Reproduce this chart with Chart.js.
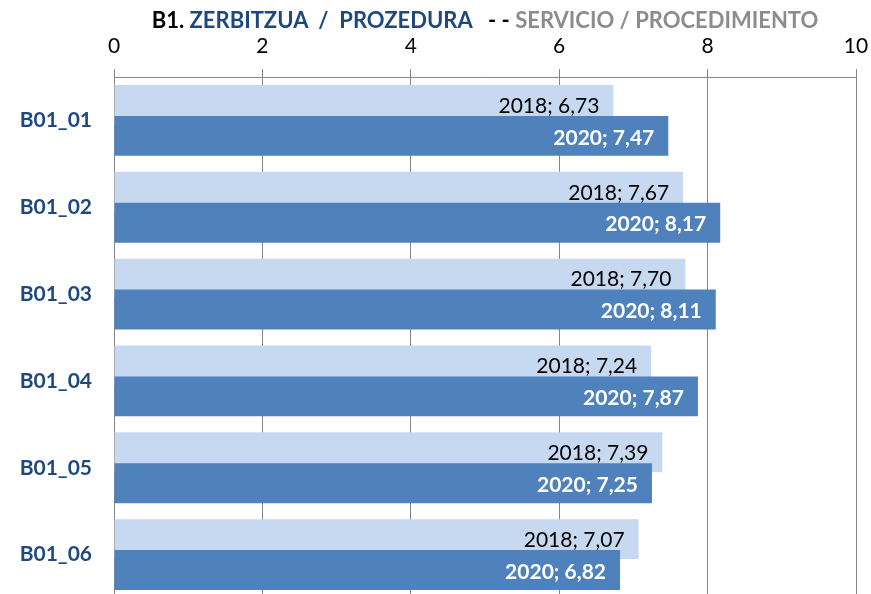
<!DOCTYPE html>
<html>
<head>
<meta charset="utf-8">
<script src="https://cdn.jsdelivr.net/npm/chart.js@4"></script>
<style>
    html, body { margin: 0; padding: 0; background: #fff; overflow: hidden; }
    #wrap { position: relative; width: 871px; height: 606px; }
    #title {
        position: absolute; left: 114px; width: 742px; top: 7px;
        text-align: center; white-space: pre;
        font: bold 22px Lato, sans-serif; line-height: 26px;
    }
    .t-dark  { color: #000; }
    .t-blue  { color: #1F497D; }
    .t-gray  { color: #8C8C8C; }
</style>
</head>
<body>
<div id="wrap">
    <canvas id="barChart" width="871" height="606"></canvas>
    <div id="title"><span class="t-dark">B1. </span><span class="t-blue">ZERBITZUA  /  PROZEDURA</span><span class="t-dark">   - - </span><span class="t-gray">SERVICIO / PROCEDIMIENTO</span></div>
</div>
<script>
// ─── Data ─────────────────────────────────────────────────────────────────
const categories  = ['B01_01', 'B01_02', 'B01_03', 'B01_04', 'B01_05', 'B01_06'];
const seriesNames = ['2018', '2020'];
const values2018  = [6.73, 7.67, 7.70, 7.24, 7.39, 7.07];
const values2020  = [7.47, 8.17, 8.11, 7.87, 7.25, 6.82];
const xTicks      = [0, 2, 4, 6, 8, 10];

const FONT      = 'Lato, sans-serif';
const GRID_GRAY = '#868686';

/** "7.47" → "7,47" */
function fmt(v) {
    return v.toFixed(2).replace('.', ',');
}

// Draw 2018 first so the 2020 bar sits on top where they overlap
const drawOrderPlugin = {
    id: 'drawOrder',
    beforeDatasetsDraw(chart) {
        chart.getSortedVisibleDatasetMetas().forEach(meta => meta.controller.draw());
        return false;
    }
};

// "year; value" labels inside the end of each bar
const barLabelPlugin = {
    id: 'barLabels',
    afterDraw(chart) {
        const ctx = chart.ctx;
        ctx.save();
        ctx.textAlign = 'right';
        ctx.textBaseline = 'middle';
        chart.data.datasets.forEach((ds, di) => {
            const meta = chart.getDatasetMeta(di);
            const light = di === 0;
            ctx.font = (light ? '' : 'bold ') + '21px ' + FONT;
            ctx.fillStyle = light ? '#000' : '#fff';
            meta.data.forEach((bar, i) => {
                ctx.fillText(ds.label + '; ' + fmt(ds.data[i]), bar.x - 14, bar.y + (light ? 1 : 2));
            });
        });
        ctx.restore();
    }
};

new Chart(document.getElementById('barChart'), {
    type: 'bar',
    data: {
        labels: categories,
        datasets: [
            {
                label: seriesNames[0],
                data: values2018,
                backgroundColor: '#C6D9F1'
            },
            {
                label: seriesNames[1],
                data: values2020,
                backgroundColor: '#4F81BD'
            }
        ]
    },
    options: {
        indexAxis: 'y',
        responsive: false,
        animation: false,
        categoryPercentage: 0.713,
        barPercentage: 1.29,
        layout: { padding: { top: 0, left: 0, right: 15, bottom: 8 } },
        plugins: {
            legend: { display: false },
            tooltip: { enabled: false }
        },
        scales: {
            x: {
                position: 'top',
                min: 0,
                max: 10,
                afterBuildTicks: (scale) => { scale.ticks = xTicks.map(v => ({ value: v })); },
                afterFit: (scale) => {
                    scale.height = 77;
                    scale.paddingLeft = 0;
                    scale.paddingRight = 0;
                },
                ticks: {
                    color: '#000',
                    font: { family: FONT, size: 21 },
                    padding: 10,
                    maxRotation: 0
                },
                grid: { color: GRID_GRAY, tickLength: 8, lineWidth: 1 },
                border: { display: true, color: GRID_GRAY }
            },
            y: {
                afterFit: (scale) => {
                    scale.width = 114;
                    scale.paddingTop = 0;
                    scale.paddingBottom = 0;
                },
                ticks: {
                    color: '#1F497D',
                    font: { family: FONT, size: 21, weight: 'bold' },
                    padding: 22
                },
                grid: { display: false, drawTicks: false },
                border: { display: false }
            }
        }
    },
    plugins: [drawOrderPlugin, barLabelPlugin]
});
</script>
</body>
</html>
